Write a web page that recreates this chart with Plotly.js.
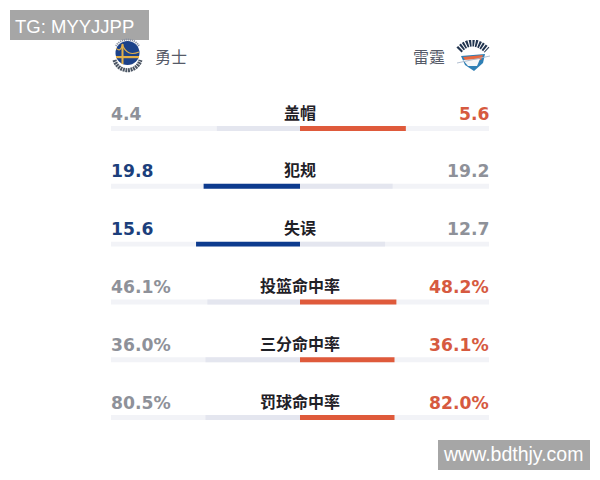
<!DOCTYPE html>
<html><head><meta charset="utf-8">
<script src="https://cdn.plot.ly/plotly-3.0.1.min.js"></script>
<style>html,body{margin:0;padding:0;background:#fff}#c{width:600px;height:480px}</style></head>
<body><div id="c"></div>
<script>
var categories = ['盖帽','犯规','失误','投篮命中率','三分命中率','罚球命中率'];
var warriorsLabels = ['4.4','19.8','15.6','46.1%','36.0%','80.5%'];
var thunderLabels = ['5.6','19.2','12.7','48.2%','36.1%','82.0%'];
var warriorsShare = [44, 51, 55, 49, 50, 50];
var thunderShare = [56, 49, 45, 51, 50, 50];
var leader = ['T','W','W','T','T','T'];

var BLUE='#0d3b8e', ORANGE='#df5a3b', GREY='#e4e6ef', TRACK='#f2f3f7';
var BLUE_T='#1c3f7c', ORANGE_T='#d65a40', GREY_T='#8e9199';
var BAR_W=0.085;

var warriorsSvg = '<svg xmlns="http://www.w3.org/2000/svg" width="120" height="120" viewBox="0 0 40 40">'
 +'<defs><filter id="b"><feGaussianBlur stdDeviation="0.3"/></filter></defs><g filter="url(#b)">'
 +'<path d="M6.5 25 A13.4 13.4 0 0 0 32.5 25" fill="none" stroke="#4b5563" stroke-width="4" stroke-dasharray="1.9 0.7"/>'
 +'<path d="M8 11 A13.4 13.4 0 0 1 31 11" fill="none" stroke="#8b93a3" stroke-width="2" stroke-dasharray="1.2 0.8"/>'
 +'<circle cx="19.5" cy="18" r="12" fill="#1d4289"/>'
 +'<path d="M8 21 L31 21 L31 23.2 L8 23.2Z" fill="#e3b04a"/><path d="M13.5 9 L15.5 9 L15.5 29 L13.5 29Z" fill="#e3b04a"/>'
 +'<path d="M8 13 Q12 18 14.5 10 Q19 22 31 17" fill="none" stroke="#e3b04a" stroke-width="1.1"/></g></svg>';
var thunderSvg = '<svg xmlns="http://www.w3.org/2000/svg" width="135" height="120" viewBox="0 0 45 40">'
 +'<defs><filter id="b"><feGaussianBlur stdDeviation="0.3"/></filter></defs><g filter="url(#b)">'
 +'<path d="M9 15 Q22 1 37 15" fill="none" stroke="#22344f" stroke-width="7" stroke-dasharray="2 1.1"/>'
 +'<path d="M11 21 L35 19 L33 28 L24 36 L15 30Z" fill="#2f7fb5"/>'
 +'<path d="M13 22 L33 20 L31 25 L15 25Z" fill="#e8693f"/>'
 +'<path d="M13 25 L30 24 L27 31 L18 31Z" fill="#f4f6f8"/>'
 +'<path d="M7 28 L40 21" stroke="#a9b8cc" stroke-width="0.9"/></g></svg>';
function uri(s){return 'data:image/svg+xml;charset=utf-8,'+encodeURIComponent(s);}

function trace(vals,colors,sign){
  return {type:'bar',orientation:'h',y:categories,
    x:vals.map(function(v){return sign*v;}),width:BAR_W,
    marker:{color:colors,line:{width:0}},hoverinfo:'skip',showlegend:false};
}
var data=[
  trace([100,100,100,100,100,100],categories.map(function(){return TRACK;}),-1),
  trace([100,100,100,100,100,100],categories.map(function(){return TRACK;}),1),
  trace(warriorsShare,leader.map(function(l){return l==='W'?BLUE:GREY;}),-1),
  trace(thunderShare,leader.map(function(l){return l==='T'?ORANGE:GREY;}),1)
];
var ann=[];
var numFont='"DejaVu Sans",sans-serif';
var cjk='"Noto Sans CJK SC",sans-serif';
categories.forEach(function(c,i){
  ann.push({x:0,y:c,text:c,showarrow:false,yshift:17,xanchor:'center',yanchor:'middle',
    font:{family:cjk,size:16,color:'#1f2127',weight:700}});
  ann.push({x:-100,y:c,text:warriorsLabels[i],showarrow:false,yshift:15,xanchor:'left',yanchor:'middle',xshift:-2,
    font:{family:numFont,size:17.2,weight:700,color:leader[i]==='W'?BLUE_T:GREY_T}});
  ann.push({x:100,y:c,text:thunderLabels[i],showarrow:false,yshift:15,xanchor:'right',yanchor:'middle',xshift:2,
    font:{family:numFont,size:17.2,weight:700,color:leader[i]==='T'?ORANGE_T:GREY_T}});
});
function px(x){return x/600;} function py(y){return 1-y/480;}
function note(t,x,y,a,f){ann.push({xref:'paper',yref:'paper',x:px(x),y:py(y),text:t,showarrow:false,xanchor:a,yanchor:'middle',font:f});}
note('勇士',153,56,'left',{family:cjk,size:16,color:'#555a68'});
note('雷霆',447,56,'right',{family:cjk,size:16,color:'#555a68'});
note('TG: MYYJJPP',13,26,'left',{family:'"Liberation Sans",sans-serif',size:18.5,color:'#ffffff'});
note('www.bdthjy.com',441,454,'left',{family:'"Liberation Sans",sans-serif',size:19.5,color:'#ffffff'});

function box(x0,y0,x1,y1){return {type:'rect',xref:'paper',yref:'paper',x0:px(x0),x1:px(x1),y0:py(y0),y1:py(y1),fillcolor:'#a6a6a6',line:{width:0},layer:'below'};}

var layout={width:600,height:480,margin:{l:0,r:0,t:0,b:0},paper_bgcolor:'#fff',plot_bgcolor:'#fff',
  barmode:'overlay',showlegend:false,
  xaxis:{range:[-158.73,158.73],visible:false,fixedrange:true},
  yaxis:{type:'category',categoryorder:'array',categoryarray:categories,range:[6.08,-2.223],visible:false,fixedrange:true},
  shapes:[box(10,10,149,40),box(438,440,590,470)],
  annotations:ann,
  images:[
   {source:uri(warriorsSvg),xref:'paper',yref:'paper',x:px(108),y:py(35),sizex:40/600,sizey:40/480,xanchor:'left',yanchor:'top',sizing:'stretch',layer:'above'},
   {source:uri(thunderSvg),xref:'paper',yref:'paper',x:px(450),y:py(35),sizex:45/600,sizey:40/480,xanchor:'left',yanchor:'top',sizing:'stretch',layer:'above'}
  ]};
Plotly.newPlot('c',data,layout,{displayModeBar:false,staticPlot:true});
</script></body></html>
